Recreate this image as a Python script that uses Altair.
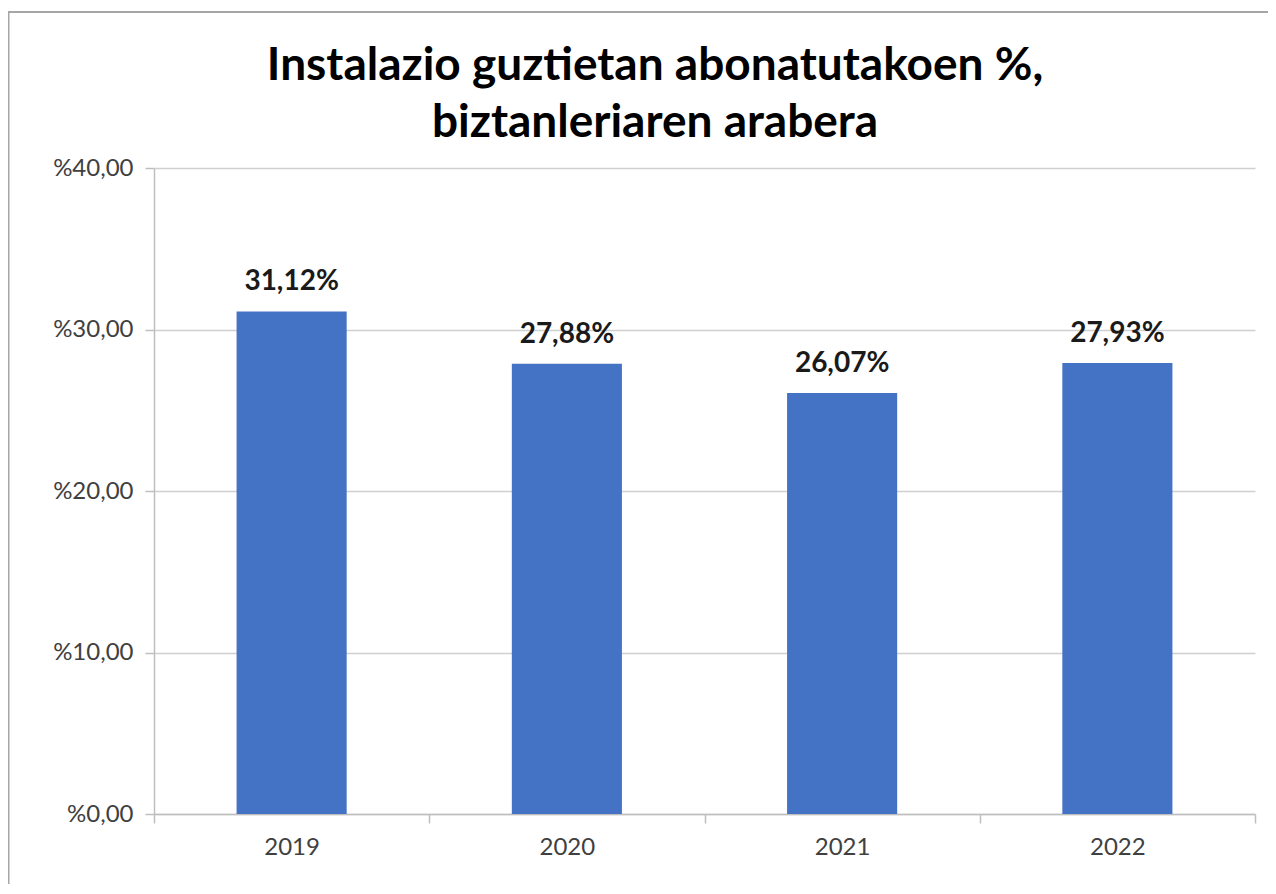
import altair as alt
import pandas as pd

years = ["2019", "2020", "2021", "2022"]
values = [31.12, 27.88, 26.07, 27.93]
title_lines = ["Instalazio guztietan abonatutakoen %,", "biztanleriaren arabera"]

df = pd.DataFrame({"year": years, "value": values})

FONT = "Lato"

x = alt.X("year:N", title=None,
          scale=alt.Scale(paddingInner=0, paddingOuter=0),
          axis=alt.Axis(labelAngle=0, labelFont=FONT, labelFontSize=24, labelColor="#404040",
                        tickBand="extent", tickSize=9, tickColor="#bfbfbf", tickWidth=1.5,
                        domainColor="#bfbfbf", domainWidth=1.5, labelPadding=12, grid=False))
y = alt.Y("value:Q", title=None,
          scale=alt.Scale(domain=[0, 40]),
          axis=alt.Axis(values=[0, 10, 20, 30, 40], labelFont=FONT, labelFontSize=24,
                        labelColor="#404040",
                        labelExpr="'%' + replace(format(datum.value, '.2f'), '.', ',')",
                        tickSize=9, tickColor="#bfbfbf", tickWidth=1.5,
                        domainColor="#bfbfbf", domainWidth=1.5, labelPadding=12,
                        gridColor="#d0d0d0", gridWidth=1.5))

base = alt.Chart(df)

bars = base.mark_bar(color="#4472C4", width=alt.RelativeBandSize(0.4)).encode(x=x, y=y)

labels = base.transform_calculate(
    lbl="replace(format(datum.value, '.2f'), '.', ',') + '%'"
).mark_text(font=FONT, fontSize=28, fontWeight="bold", color="#1a1a1a",
            baseline="alphabetic", dy=-21).encode(x=x, y=y, text="lbl:N")

title_df = pd.DataFrame({"t": [0]})
title = alt.Chart(title_df).mark_text(
    font=FONT, fontSize=46, fontWeight="bold", color="#000000",
    align="center", baseline="alphabetic", lineHeight=57
).encode(x=alt.value(501), y=alt.value(-88), text=alt.value(title_lines))

border_top = alt.Chart(title_df).mark_rule(color="#a6a6a6", strokeWidth=2).encode(
    x=alt.value(-146), x2=alt.value(1120), y=alt.value(-156))
border_left = alt.Chart(title_df).mark_rule(color="#a6a6a6", strokeWidth=2).encode(
    x=alt.value(-145.5), y=alt.value(-156), y2=alt.value(730))

chart = alt.layer(bars, labels, title, border_top, border_left).properties(
    width=1101, height=646,
    padding={"left": 146, "top": 160, "right": 13, "bottom": 70},
    autosize=alt.AutoSizeParams(type="none"),
    background="white",
).configure_view(stroke="transparent", strokeWidth=0)

chart.save("out.html", embed_options={"renderer": "svg", "actions": False})
